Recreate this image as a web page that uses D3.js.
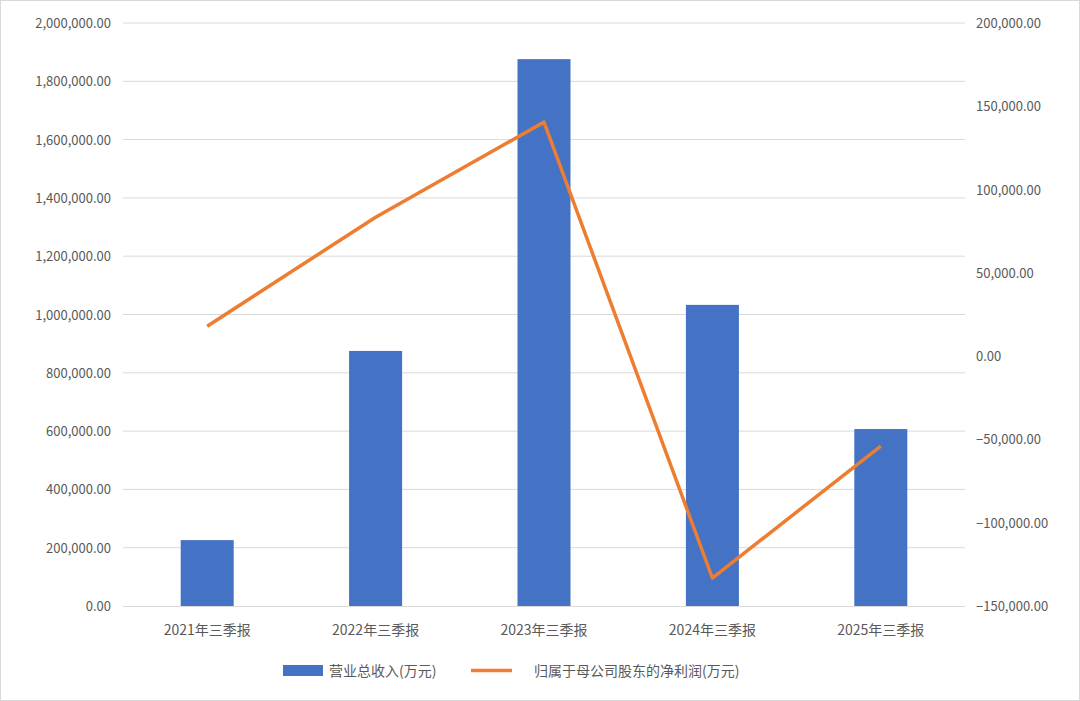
<!DOCTYPE html>
<html><head><meta charset="utf-8">
<script src="https://cdn.jsdelivr.net/npm/d3@7"></script>
<style>
body{margin:0;background:#fff;font-family:"Noto Sans CJK SC","Noto Sans",sans-serif;}
</style></head>
<body><svg id="chart" width="1080" height="701"></svg>
<script>
// values
const categories = ['2021年三季报', '2022年三季报', '2023年三季报', '2024年三季报', '2025年三季报'];
const revenue = [226000, 875000, 1876000, 1033000, 607000];
const netProfit = [18000, 83400, 140500, -133200, -54000];
const leftTicks = [0, 200000, 400000, 600000, 800000, 1000000, 1200000, 1400000, 1600000, 1800000, 2000000];
const rightTicks = [-150000, -100000, -50000, 0, 50000, 100000, 150000, 200000];
const seriesNames = ['营业总收入(万元)', '归属于母公司股东的净利润(万元)'];

const svg = d3.select('#chart');
const m = { left: 123, right: 965, top: 23, bottom: 606 };
const fmt = d3.format(',.2f');

svg.append('rect').attr('x', 0.5).attr('y', 0.5).attr('width', 1079).attr('height', 700)
  .attr('fill', '#fff').attr('stroke', '#d9d9d9');

const x = d3.scaleBand().domain(categories).range([m.left, m.right]);
const yL = d3.scaleLinear().domain([0, 2000000]).range([m.bottom, m.top]);
const yR = d3.scaleLinear().domain([-150000, 200000]).range([m.bottom, m.top]);

// gridlines
svg.append('g').selectAll('line').data(leftTicks.slice(1)).join('line')
  .attr('x1', m.left).attr('x2', m.right)
  .attr('y1', d => yL(d)).attr('y2', d => yL(d))
  .attr('stroke', '#d9d9d9');

const tickStyle = s => s.attr('font-size', 13).attr('fill', '#595959');

svg.append('g').selectAll('text').data(leftTicks).join('text')
  .attr('x', 111).attr('y', d => yL(d) + 5).attr('text-anchor', 'end')
  .text(fmt).call(tickStyle);

svg.append('g').selectAll('text').data(rightTicks).join('text')
  .attr('x', 976).attr('y', d => yR(d) + 5).attr('text-anchor', 'start')
  .text(fmt).call(tickStyle);

// bars
const barW = 53;
svg.append('g').selectAll('rect').data(revenue).join('rect')
  .attr('x', (d, i) => x(categories[i]) + x.bandwidth() / 2 - barW / 2)
  .attr('y', d => yL(d)).attr('width', barW).attr('height', d => yL(0) - yL(d))
  .attr('fill', '#4472c4');

// x axis baseline
svg.append('line').attr('x1', m.left).attr('x2', m.right)
  .attr('y1', m.bottom + 0.5).attr('y2', m.bottom + 0.5).attr('stroke', '#d9d9d9');

svg.append('g').selectAll('text').data(categories).join('text')
  .attr('x', d => x(d) + x.bandwidth() / 2).attr('y', 635).attr('text-anchor', 'middle')
  .text(d => d).attr('font-size', 14).attr('fill', '#595959');

// line
const line = d3.line().x((d, i) => x(categories[i]) + x.bandwidth() / 2).y(d => yR(d));
svg.append('path').datum(netProfit).attr('d', line)
  .attr('fill', 'none').attr('stroke', '#ed7d31').attr('stroke-width', 3.5)
  .attr('stroke-linejoin', 'round');

// legend
const lg = svg.append('g').attr('font-size', 14).attr('fill', '#595959');
lg.append('rect').attr('x', 283).attr('y', 665).attr('width', 40).attr('height', 11).attr('fill', '#4472c4');
lg.append('text').attr('x', 329).attr('y', 676).text(seriesNames[0]);
lg.append('line').attr('x1', 471).attr('x2', 512).attr('y1', 670.5).attr('y2', 670.5)
  .attr('stroke', '#ed7d31').attr('stroke-width', 3.5);
lg.append('text').attr('x', 534).attr('y', 676).text(seriesNames[1]);
</script></body></html>
